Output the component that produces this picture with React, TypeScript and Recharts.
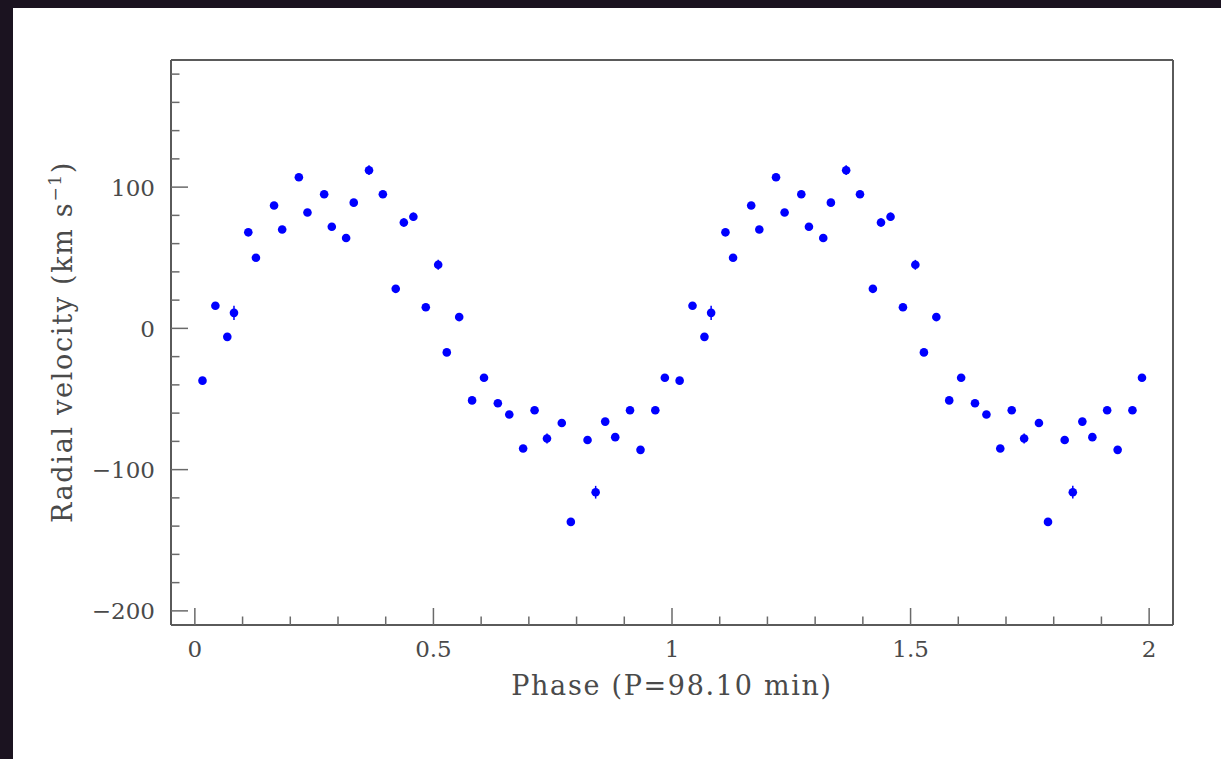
import React from 'react';
import { ScatterChart, Scatter, XAxis, YAxis, ErrorBar } from 'recharts';

const phases = [
  0.016, 0.043, 0.068, 0.082, 0.112, 0.128, 0.166, 0.183, 0.218, 0.236,
  0.271, 0.287, 0.317, 0.333, 0.365, 0.394, 0.421, 0.438, 0.458, 0.484,
  0.510, 0.528, 0.554, 0.581, 0.606, 0.635, 0.659, 0.688, 0.712, 0.738,
  0.769, 0.788, 0.823, 0.840, 0.860, 0.881, 0.912, 0.934, 0.965, 0.985,
];
const velocities = [
  -37, 16, -6, 11, 68, 50, 87, 70, 107, 82,
  95, 72, 64, 89, 112, 95, 28, 75, 79, 15,
  45, -17, 8, -51, -35, -53, -61, -85, -58, -78,
  -67, -137, -79, -116, -66, -77, -58, -86, -58, -35,
];
const errors = [
  2, 2, 2, 5, 2, 2, 2, 2, 2, 2,
  2, 2, 2, 2, 3.5, 2, 2, 3, 3, 2,
  3.5, 2, 2, 2, 2, 2, 2, 2, 2, 3.5,
  2, 2, 2, 4.5, 2, 2, 2, 2, 2, 2,
];
// the plot shows each point twice: phase and phase + 1
const cycles = [0, 1];

const xTicks = [
  0, 0.1, 0.2, 0.3, 0.4, 0.5, 0.6, 0.7, 0.8, 0.9, 1,
  1.1, 1.2, 1.3, 1.4, 1.5, 1.6, 1.7, 1.8, 1.9, 2,
];
const xLabels: Record<string, string> = { '0': '0', '0.5': '0.5', '1': '1', '1.5': '1.5', '2': '2' };
const yTicks = [
  -200, -180, -160, -140, -120, -100, -80, -60, -40, -20, 0,
  20, 40, 60, 80, 100, 120, 140, 160, 180,
];
const yLabels: Record<string, string> = { '-200': '\u2212200', '-100': '\u2212100', '0': '0', '100': '100' };

const data = cycles.flatMap((c) =>
  phases.map((p, i) => ({ phase: p + c, v: velocities[i], err: errors[i] }))
);

const FONT = '"DejaVu Serif", serif';
const TEXT = '#4a4a4a';
const TICK = '#6a6a6a';
const MAJOR = 17;
const MINOR = 8.5;

const isMajorX = (v: number) => xLabels[String(v)] !== undefined;
const isMajorY = (v: number) => yLabels[String(v)] !== undefined;

const BottomTick = (props: any) => {
  const { x, y, payload } = props;
  const major = isMajorX(payload.value);
  return (
    <g>
      <line x1={x} y1={y} x2={x} y2={y - (major ? MAJOR : MINOR)} stroke={TICK} strokeWidth={1.5} />
      {major && (
        <text x={x} y={y + 32} textAnchor="middle" fontFamily={FONT} fontSize={23} fill={TEXT}>
          {xLabels[String(payload.value)]}
        </text>
      )}
    </g>
  );
};

const TopTick = (props: any) => {
  const { x, y, payload } = props;
  const major = isMajorX(payload.value);
  return <line x1={x} y1={y} x2={x} y2={y + (major ? MAJOR : MINOR)} stroke={TICK} strokeWidth={1.5} />;
};

const LeftTick = (props: any) => {
  const { x, y, payload } = props;
  const major = isMajorY(payload.value);
  return (
    <g>
      <line x1={x} y1={y} x2={x + (major ? MAJOR : MINOR)} y2={y} stroke={TICK} strokeWidth={1.5} />
      {major && (
        <text x={x - 16} y={y + 8.5} textAnchor="end" fontFamily={FONT} fontSize={23} fill={TEXT}>
          {yLabels[String(payload.value)]}
        </text>
      )}
    </g>
  );
};

const RightTick = (props: any) => {
  const { x, y, payload } = props;
  const major = isMajorY(payload.value);
  return <line x1={x} y1={y} x2={x - (major ? MAJOR : MINOR)} y2={y} stroke={TICK} strokeWidth={1.5} />;
};

const Dot = (props: any) => <circle cx={props.cx} cy={props.cy} r={4.3} fill="#0000ff" />;

const XTitle = () => (
  <text x={659} y={687} textAnchor="middle" fontFamily={FONT} fontSize={27} letterSpacing={1.7} fill={TEXT}>
    Phase (P=98.10 min)
  </text>
);

const YTitle = () => (
  <text
    x={0}
    y={0}
    transform="translate(59, 334) rotate(-90)"
    textAnchor="middle"
    fontFamily={FONT}
    fontSize={27}
    letterSpacing={1.7}
    fill={TEXT}
  >
    <tspan>Radial velocity (km s</tspan>
    <tspan fontSize={17} dy={-11}>{'\u22121'}</tspan>
    <tspan dy={11}>)</tspan>
  </text>
);

export default function App() {
  return (
    <div style={{ position: 'absolute', left: 0, top: 0, width: 1221, height: 759, background: '#1b1320', overflow: 'hidden' }}>
      <div style={{ position: 'absolute', left: 13, top: 8, width: 1208, height: 751, background: '#ffffff' }}>
        <ScatterChart width={1208} height={751} margin={{ top: 42, right: 38, bottom: 104, left: 98 }}>
          <XAxis
            xAxisId="b"
            type="number"
            dataKey="phase"
            domain={[-0.05, 2.05]}
            ticks={xTicks}
            interval={0}
            height={30}
            tickSize={0}
            tickMargin={0}
            tickLine={false}
            axisLine={{ stroke: '#5a5a5a', strokeWidth: 2 }}
            tick={<BottomTick />}
            label={{ content: () => <XTitle /> }}
          />
          <XAxis
            xAxisId="t"
            orientation="top"
            type="number"
            dataKey="phase"
            domain={[-0.05, 2.05]}
            ticks={xTicks}
            interval={0}
            height={10}
            tickSize={0}
            tickMargin={0}
            tickLine={false}
            axisLine={{ stroke: '#5a5a5a', strokeWidth: 2 }}
            tick={<TopTick />}
          />
          <YAxis
            yAxisId="l"
            type="number"
            dataKey="v"
            domain={[-210, 190]}
            ticks={yTicks}
            interval={0}
            width={60}
            tickSize={0}
            tickMargin={0}
            tickLine={false}
            axisLine={{ stroke: '#5a5a5a', strokeWidth: 2 }}
            tick={<LeftTick />}
            label={{ content: () => <YTitle /> }}
          />
          <YAxis
            yAxisId="r"
            orientation="right"
            type="number"
            dataKey="v"
            domain={[-210, 190]}
            ticks={yTicks}
            interval={0}
            width={10}
            tickSize={0}
            tickMargin={0}
            tickLine={false}
            axisLine={{ stroke: '#5a5a5a', strokeWidth: 2 }}
            tick={<RightTick />}
          />
          <Scatter data={data} xAxisId="b" yAxisId="l" shape={<Dot />} isAnimationActive={false}>
            <ErrorBar dataKey="err" direction="y" width={0} stroke="#0000ff" strokeWidth={1.5} />
          </Scatter>
        </ScatterChart>
      </div>
    </div>
  );
}
